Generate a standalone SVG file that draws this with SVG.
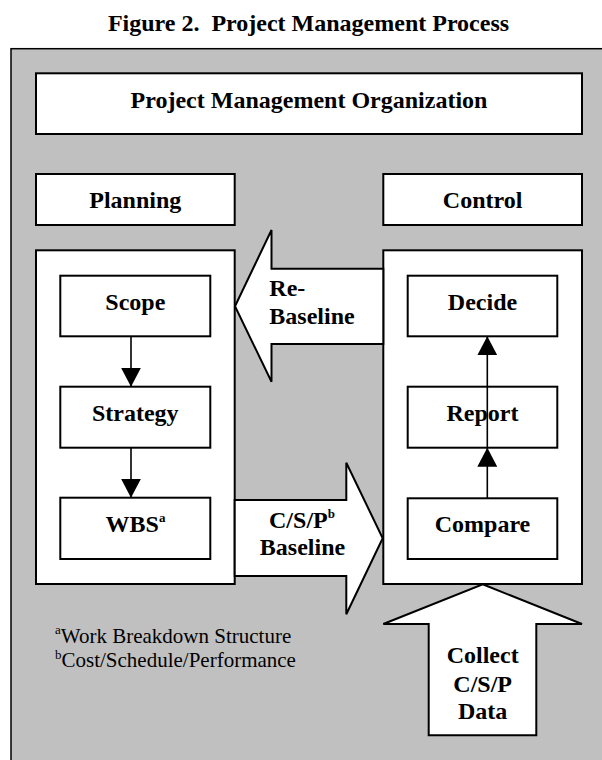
<svg xmlns="http://www.w3.org/2000/svg" width="602" height="760" viewBox="0 0 602 760">
<style>
.box{fill:#ffffff;stroke:#000000;stroke-width:2}
.blk{fill:#ffffff;stroke:#000000;stroke-width:2;stroke-linejoin:miter}
text{font-family:'Liberation Serif','Times New Roman',Times,Tinos,'Nimbus Roman',serif;fill:#000000;white-space:pre}
.t{font-weight:bold;font-size:24px;text-anchor:middle}
.tl{font-weight:bold;font-size:24px}
.fn{font-size:21px}
.ln{stroke:#000000;stroke-width:1.6;fill:none}
</style>
<defs>
<marker id="ah" viewBox="0 0 19 20" refX="19" refY="10" markerWidth="19" markerHeight="20" markerUnits="userSpaceOnUse" orient="auto">
<path d="M0,0 L19,10 L0,20 Z" fill="#000000"/>
</marker>
</defs>
<rect width="602" height="760" fill="#ffffff"/>
<text class="t" x="308.5" y="31" xml:space="preserve">Figure 2.  Project Management Process</text>
<rect id="frame" x="11" y="48.7" width="620" height="740" fill="#c0c0c0" stroke="#000000" stroke-width="1.5"/>

<g id="pmo">
<rect class="box" x="36" y="73.3" width="546" height="60.7"/>
<text class="t" x="309" y="108">Project Management Organization</text>
</g>
<g id="planning">
<rect class="box" x="36" y="174" width="198.7" height="51"/>
<text class="t" x="135.3" y="207.5">Planning</text>
</g>
<g id="control">
<rect class="box" x="383.3" y="174" width="198.7" height="51"/>
<text class="t" x="482.6" y="207.5">Control</text>
</g>

<g id="planning-container">
<rect class="box" x="36" y="250.3" width="198.7" height="333.7"/>
</g>
<g id="control-container">
<rect class="box" x="383.3" y="250.3" width="198.7" height="333.7"/>
</g>

<g id="scope">
<rect class="box" x="60.3" y="275.7" width="150" height="60.6"/>
<text class="t" x="135.3" y="309.5">Scope</text>
</g>
<g id="strategy">
<rect class="box" x="60.3" y="386.7" width="150" height="61"/>
<text class="t" x="135.3" y="420.5">Strategy</text>
</g>
<g id="wbs">
<rect class="box" x="60.3" y="497.7" width="150" height="61.3"/>
<text class="t" x="135.5" y="531.7">WBS<tspan font-size="13" dy="-10">a</tspan></text>
</g>

<g id="decide">
<rect class="box" x="407.7" y="275.7" width="149.6" height="60.6"/>
<text class="t" x="482.5" y="309.5">Decide</text>
</g>
<g id="report">
<rect class="box" x="407.7" y="386.7" width="149.6" height="61"/>
<text class="t" x="482.5" y="420.5">Report</text>
</g>
<g id="compare">
<rect class="box" x="407.7" y="498.3" width="149.6" height="60.7"/>
<text class="t" x="482.5" y="532.3">Compare</text>
</g>

<g id="rebaseline">
<polygon class="blk" points="383.3,268.7 271.5,268.7 271.5,230 235,306.3 271.5,381.7 271.5,344 383.3,344"/>
<text class="tl" x="269.3" y="296">Re-</text>
<text class="tl" x="269.3" y="324">Baseline</text>
</g>
<g id="baseline">
<polygon class="blk" points="234.7,500 346.3,500 346.3,462.7 382.7,538.3 346.3,614.2 346.3,576 234.7,576"/>
<text class="t" x="302" y="527.7">C/S/P<tspan font-size="13" dy="-10">b</tspan></text>
<text class="t" x="302.5" y="555">Baseline</text>
</g>
<g id="collect">
<polygon class="blk" points="482.7,584.3 582,624 536.3,624 536.3,735.3 428.7,735.3 428.7,624 383.3,624"/>
<text class="t" x="482.7" y="663.3">Collect</text>
<text class="t" x="482.7" y="691.5">C/S/P</text>
<text class="t" x="482.7" y="719.3">Data</text>
</g>

<g id="connectors">
<line class="ln" x1="131" y1="336.3" x2="131" y2="386.7" marker-end="url(#ah)"/>
<line class="ln" x1="131" y1="447.7" x2="131" y2="497.7" marker-end="url(#ah)"/>
<line class="ln" x1="487.3" y1="447.7" x2="487.3" y2="336.3" marker-end="url(#ah)"/>
<line class="ln" x1="487.3" y1="498.3" x2="487.3" y2="447.7" marker-end="url(#ah)"/>
</g>

<g id="footnotes">
<text class="fn" x="55" y="642.7"><tspan font-size="13" dy="-8.5">a</tspan><tspan dy="8.5">Work Breakdown Structure</tspan></text>
<text class="fn" x="55" y="667.3"><tspan font-size="13" dy="-8.5">b</tspan><tspan dy="8.5">Cost/Schedule/Performance</tspan></text>
</g>
</svg>
